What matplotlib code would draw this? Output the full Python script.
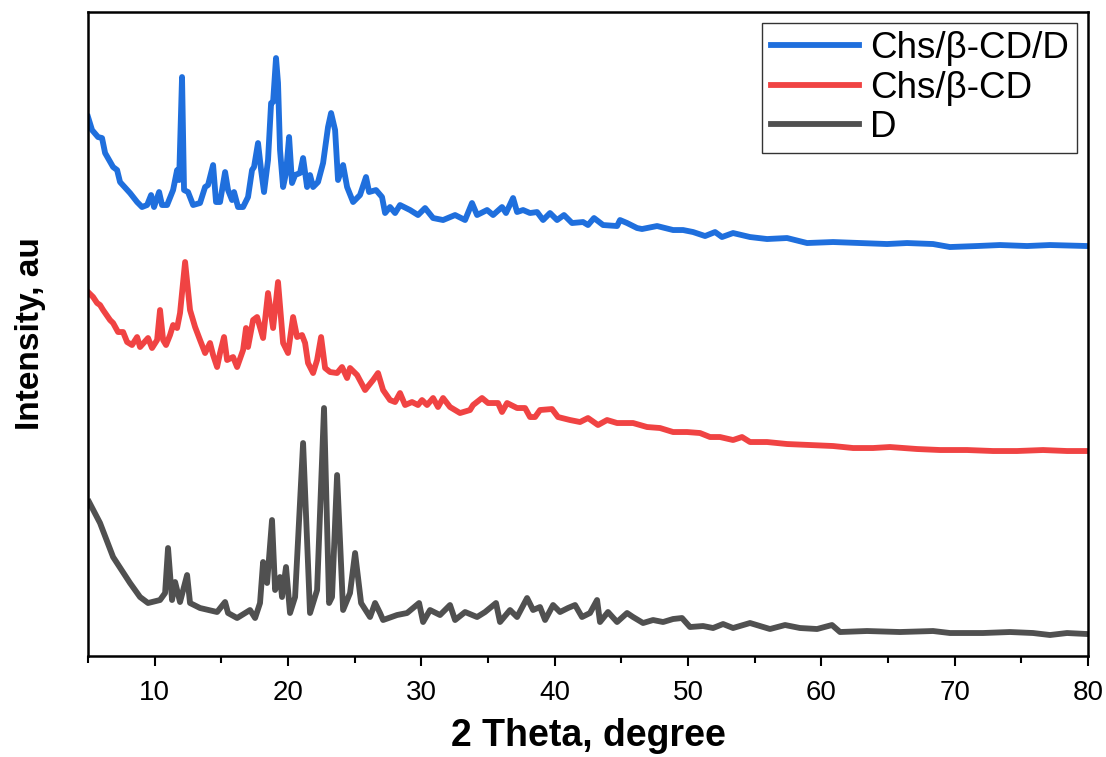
import matplotlib.pyplot as plt
from matplotlib.ticker import MultipleLocator

# 2 theta (deg) / intensity (a.u.)
two_theta_cdd = [5.0, 5.3, 5.75, 6.05, 6.28, 6.88, 7.18, 7.4, 8.15, 8.68, 9.05, 9.43, 9.73, 9.95,
                 10.33, 10.55, 10.93, 11.38, 11.68, 11.83, 12.05, 12.2, 12.5, 12.88, 13.4, 13.78,
                 14.0, 14.38, 14.6, 14.9, 15.28, 15.5, 15.8, 15.95, 16.25, 16.63, 17.0, 17.3, 17.45,
                 17.75, 17.98, 18.2, 18.5, 18.73, 18.88, 19.1, 19.25, 19.4, 19.63, 19.85, 20.08,
                 20.3, 20.53, 20.9, 21.13, 21.43, 21.65, 21.88, 22.25, 22.63, 23.0, 23.23, 23.53,
                 23.75, 24.13, 24.43, 24.88, 25.4, 25.85, 26.08, 26.6, 27.05, 27.28, 27.65, 28.03,
                 28.4, 29.15, 29.75, 30.28, 30.88, 31.63, 32.53, 33.28, 33.8, 34.18, 34.93, 35.38,
                 36.05, 36.35, 36.88, 37.18, 37.63, 38.15, 38.68, 39.13, 39.65, 40.18, 40.7, 41.3,
                 42.13, 42.5, 42.95, 43.63, 44.68, 44.9, 45.43, 46.18, 46.55, 47.68, 48.28, 48.88,
                 49.63, 50.38, 51.28, 52.03, 52.55, 53.38, 54.65, 55.93, 57.43, 58.93, 60.88, 62.9,
                 64.93, 66.43, 68.38, 69.65, 71.68, 73.4, 75.43, 77.15, 79.93]
int_cdd = [539, 526, 519, 518, 503, 489, 486, 474, 463, 454, 449, 451, 461, 449,
           464, 451, 451, 466, 486, 476, 579, 466, 464, 451, 453, 469,
           471, 491, 454, 454, 484, 466, 456, 464, 449, 449, 459, 486, 489,
           513, 486, 464, 496, 553, 554, 598, 573, 506, 469, 483, 519,
           473, 481, 483, 498, 469, 481, 469, 474, 493, 529, 543, 526,
           476, 491, 469, 454, 461, 479, 464, 466, 459, 443, 449, 443,
           451, 446, 441, 448, 438, 436, 441, 436, 453, 441, 446, 441,
           449, 443, 458, 444, 446, 443, 444, 436, 443, 436, 441, 433,
           434, 431, 438, 431, 430, 436, 433, 428, 427, 430, 428, 426,
           426, 424, 420, 424, 419, 423, 419, 417, 418, 413, 414, 413,
           412, 413, 412, 409, 410, 411, 410, 411, 410]

two_theta_cd = [5.0, 5.38, 5.68, 5.9, 6.13, 6.65, 6.88, 7.25, 7.63, 7.93, 8.3, 8.68, 8.9, 9.5, 9.8,
                10.18, 10.4, 10.63, 10.85, 11.15, 11.38, 11.68, 11.9, 12.28, 12.65, 13.03, 13.4,
                13.78, 14.15, 14.38, 14.68, 14.9, 15.2, 15.43, 15.88, 16.18, 16.63, 16.85, 17.0,
                17.38, 17.68, 18.13, 18.5, 18.88, 19.25, 19.63, 20.0, 20.38, 20.68, 21.05, 21.28,
                21.5, 21.88, 22.18, 22.48, 22.78, 23.15, 23.68, 24.05, 24.43, 24.65, 25.18, 25.78,
                26.38, 26.75, 27.13, 27.65, 28.03, 28.4, 28.78, 29.3, 29.75, 30.05, 30.43, 30.88,
                31.25, 31.63, 32.15, 32.9, 33.65, 33.88, 34.55, 35.0, 35.75, 36.05, 36.43, 37.18,
                37.78, 38.15, 38.53, 38.9, 39.8, 40.25, 41.15, 41.9, 42.5, 43.25, 43.93, 44.68,
                45.88, 46.93, 47.9, 48.88, 49.93, 50.9, 51.65, 52.4, 53.38, 54.05, 54.65, 55.93,
                57.43, 59.15, 60.88, 62.38, 63.88, 65.15, 67.18, 68.9, 70.93, 72.88, 74.68, 76.63,
                78.43, 79.93]
int_cd = [364, 359, 353, 351, 346, 336, 333, 324, 324, 314, 311, 319, 309, 318, 308,
          316, 346, 316, 311, 321, 331, 328, 343, 394, 346, 329, 316,
          303, 313, 301, 289, 303, 319, 296, 299, 289, 306, 328, 309,
          336, 339, 318, 363, 328, 374, 313, 303, 339, 319, 321, 313,
          293, 283, 296, 319, 288, 284, 283, 289, 278, 288, 281, 266,
          276, 283, 266, 256, 254, 263, 251, 254, 251, 256, 251, 258,
          249, 258, 249, 243, 246, 251, 258, 253, 253, 244, 253, 248,
          248, 239, 239, 246, 247, 239, 236, 234, 238, 231, 236, 233,
          233, 229, 228, 224, 224, 223, 219, 219, 216, 219, 214, 214,
          212, 211, 210, 208, 208, 209, 207, 206, 206, 205, 205, 206,
          205, 205]

two_theta_d = [5.08, 5.9, 6.88, 8.15, 8.9, 9.5, 10.4, 10.78, 11.0, 11.3, 11.53, 11.9, 12.43, 12.65,
               13.4, 14.68, 15.28, 15.5, 16.18, 17.15, 17.53, 17.9, 18.13, 18.43, 18.8, 19.03,
               19.4, 19.55, 19.85, 20.15, 20.53, 21.13, 21.65, 22.18, 22.7, 23.08, 23.3, 23.68,
               24.13, 24.65, 25.03, 25.48, 26.15, 26.53, 26.9, 27.13, 28.18, 28.93, 29.83, 30.13,
               30.65, 31.4, 32.15, 32.53, 33.28, 34.18, 34.78, 35.6, 35.9, 36.65, 37.18, 37.93,
               38.38, 38.9, 39.28, 39.88, 40.4, 41.0, 41.53, 42.05, 42.65, 43.18, 43.4, 44.0,
               44.68, 45.43, 45.88, 46.63, 47.38, 48.13, 48.88, 49.55, 50.15, 51.13, 51.88, 52.63,
               53.38, 54.65, 56.15, 57.28, 58.4, 59.68, 60.8, 61.4, 63.43, 65.9, 68.38, 69.65,
               72.13, 74.15, 75.88, 77.15, 78.43, 79.93]
int_d = [154, 133, 99, 73, 59, 53, 56, 63, 108, 56, 74, 54, 81, 53,
         48, 44, 54, 43, 38, 46, 38, 53, 94, 73, 136, 66,
         79, 59, 89, 43, 59, 213, 43, 66, 248, 53, 59, 181,
         46, 63, 103, 53, 39, 53, 43, 36, 41, 43, 53, 34,
         46, 41, 51, 36, 44, 39, 44, 53, 34, 46, 39, 58,
         46, 49, 36, 51, 44, 48, 51, 39, 43, 56, 34, 44,
         34, 43, 39, 33, 36, 34, 37, 38, 29, 30, 28, 32,
         28, 33, 27, 31, 28, 27, 31, 24, 25, 24, 25, 23,
         23, 24, 23, 21, 23, 22]

plt.rcParams['font.family'] = ['Liberation Sans', 'DejaVu Sans']

fig = plt.figure(figsize=(11.06, 7.57), dpi=100)
ax = fig.add_axes([0.0796, 0.1334, 0.9041, 0.8507])

ax.plot(two_theta_cdd, int_cdd, color='#1f6fdd', lw=4.2, label='Chs/β-CD/D')
ax.plot(two_theta_cd, int_cd, color='#f04343', lw=4.2, label='Chs/β-CD')
ax.plot(two_theta_d, int_d, color='#505050', lw=4.2, label='D')

ax.set_xlim(5, 80)
ax.set_ylim(0, 644)
ax.xaxis.set_major_locator(MultipleLocator(10))
ax.xaxis.set_minor_locator(MultipleLocator(5))
ax.set_yticks([])
ax.tick_params(axis='x', which='major', direction='out', length=7, width=1.5, labelsize=20, pad=10)
ax.tick_params(axis='x', which='minor', direction='out', length=5, width=1.5)
for s in ax.spines.values():
    s.set_linewidth(1.8)

ax.set_xlabel('2 Theta, degree', fontsize=27, fontweight='bold', labelpad=9)
ax.set_ylabel('Intensity, au', fontsize=24, fontweight='bold')
ax.yaxis.set_label_coords(-0.042, 0.5)

leg = ax.legend(loc='upper right', fontsize=26.5, frameon=True, fancybox=False,
                handlelength=2.4, borderaxespad=0.3, labelspacing=0.12,
                handletextpad=0.3, borderpad=0.22)
leg.get_frame().set_edgecolor('black')
leg.get_frame().set_linewidth(1.0)

fig.savefig('out.png', dpi=100)
